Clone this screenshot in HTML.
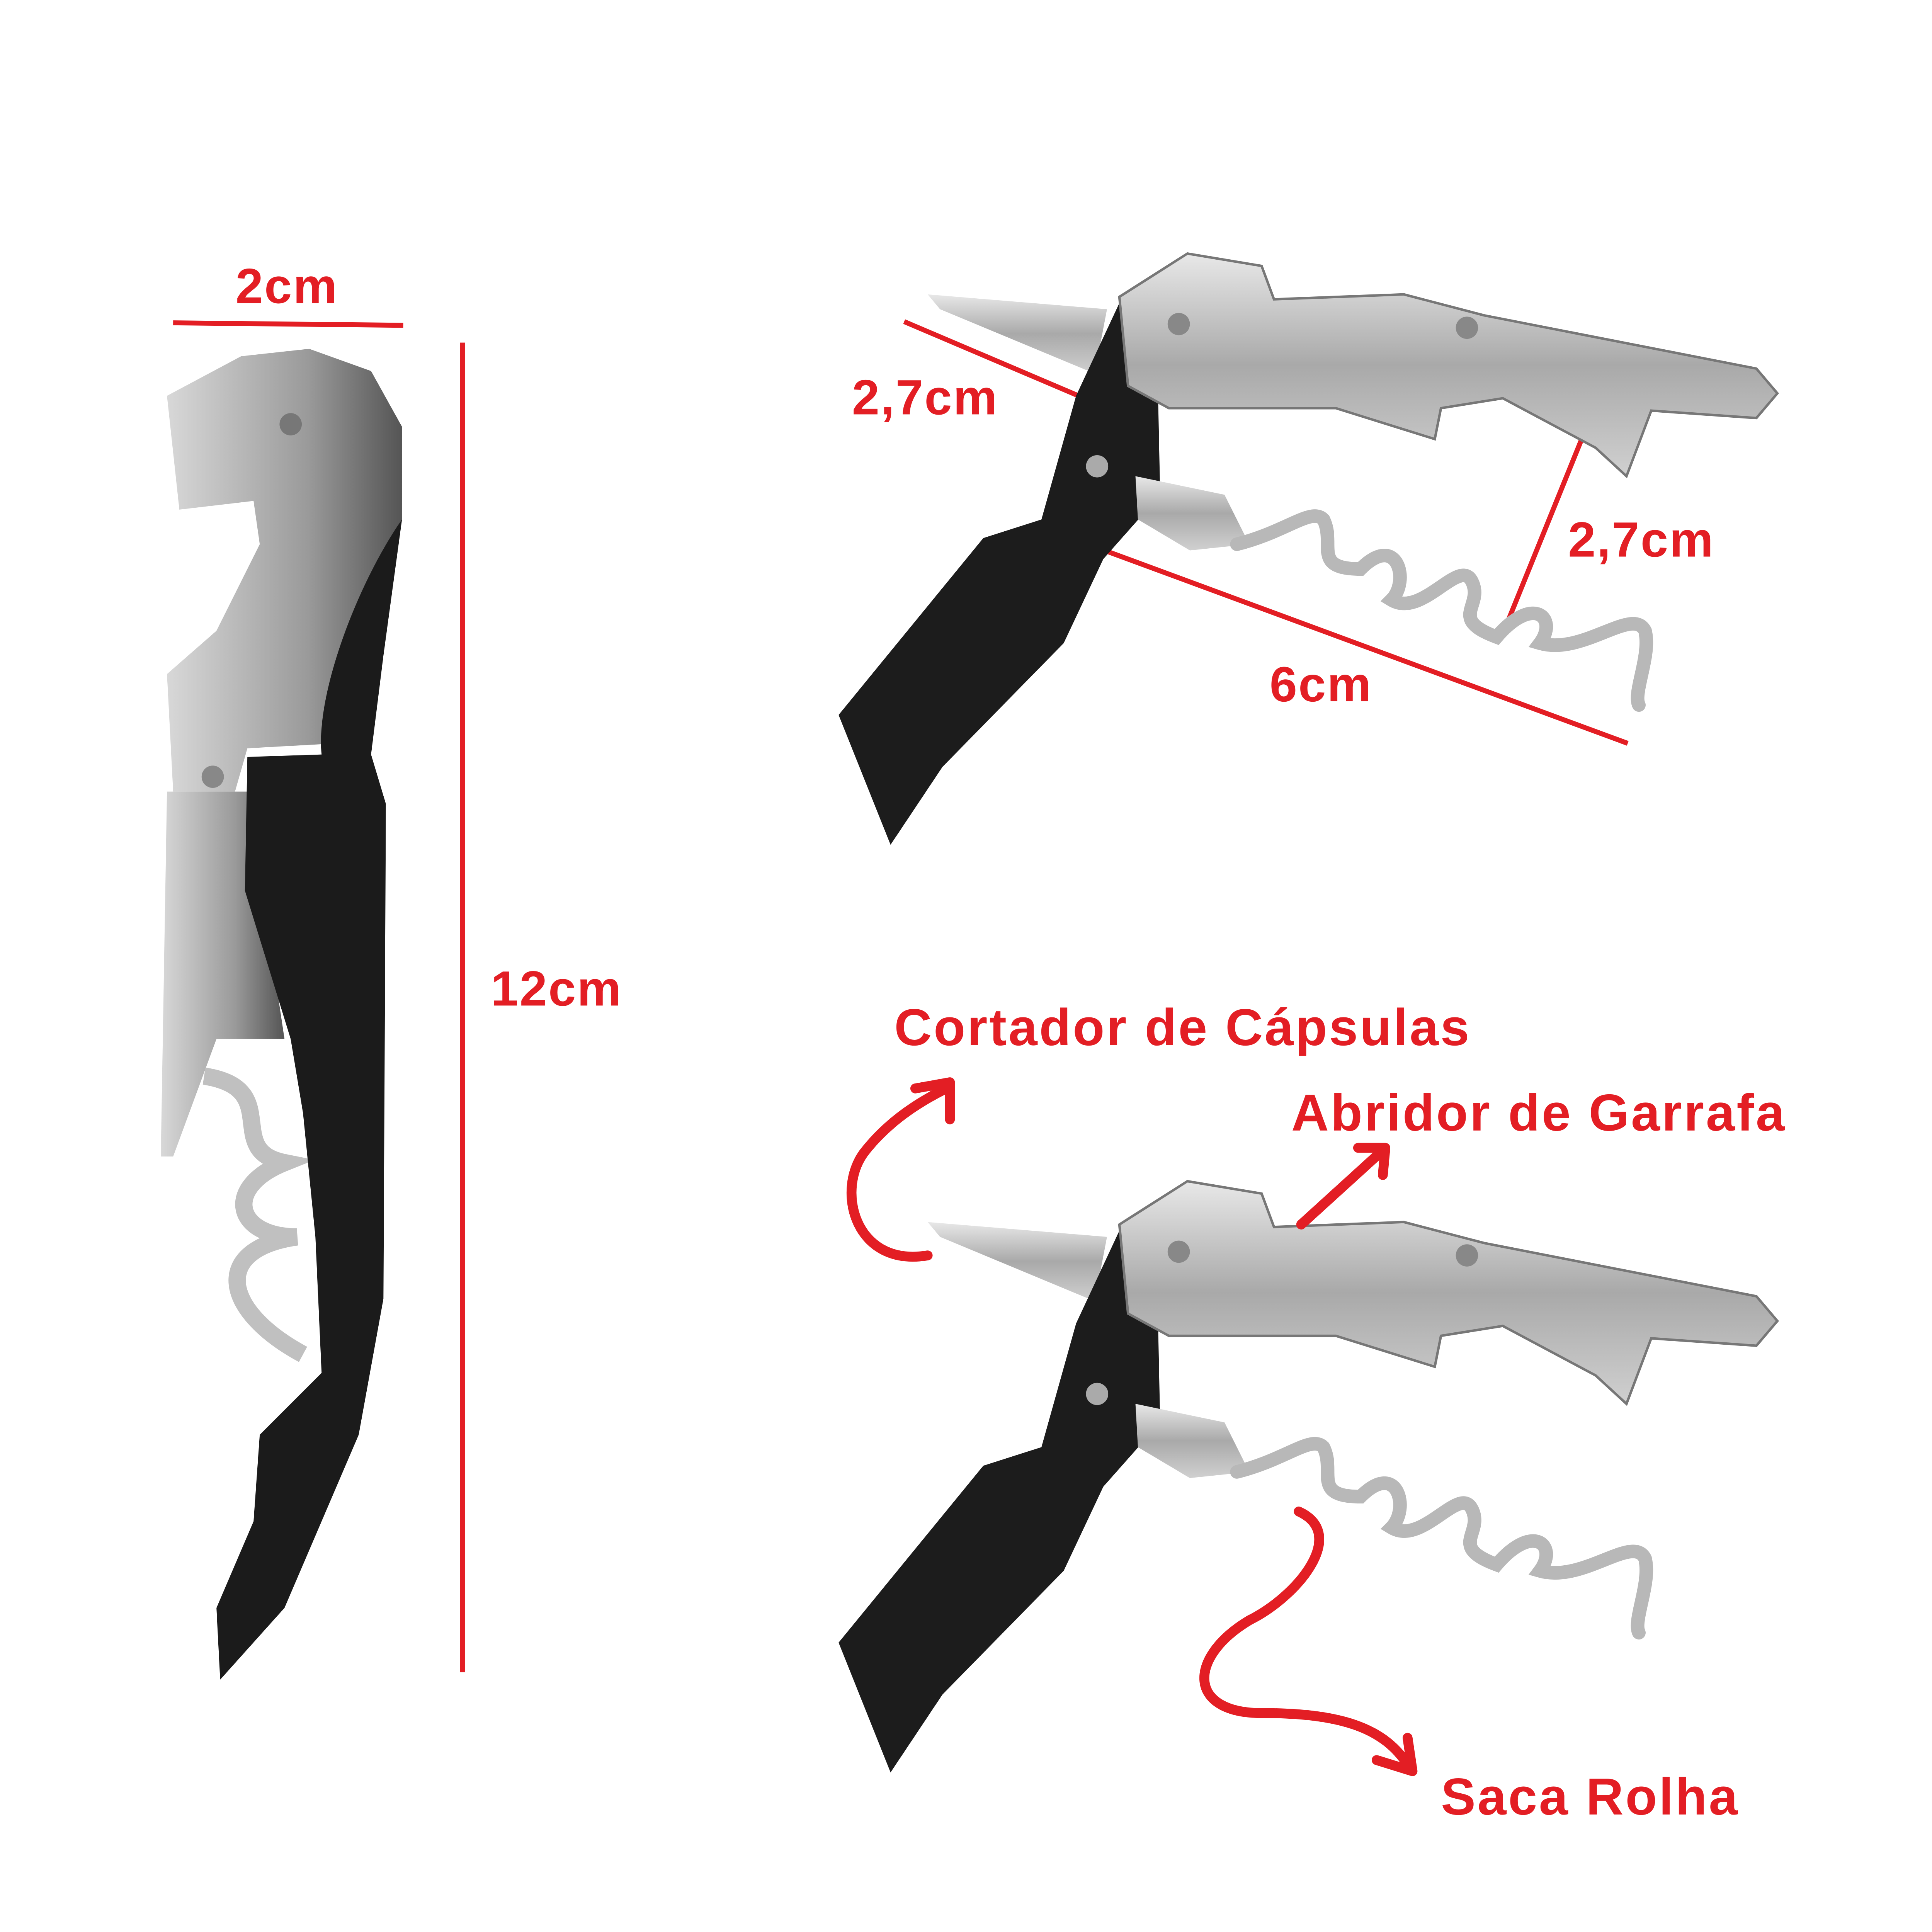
<!DOCTYPE html>
<html><head><meta charset="utf-8"><style>
html,body{margin:0;padding:0;background:#fff;width:100%;height:100%;overflow:hidden}
svg{display:block;width:100vw;height:100vh}
text{font-family:"Liberation Sans",sans-serif;font-weight:bold;fill:#e31e24}
.lb{font-size:42px;letter-spacing:1.5px}
.dm{font-size:40px;letter-spacing:1px}
</style></head><body>
<svg viewBox="0 0 1562 1562" preserveAspectRatio="none" xmlns="http://www.w3.org/2000/svg">
<defs>
<linearGradient id="s" x1="0" y1="0" x2="0" y2="1"><stop offset="0" stop-color="#e8e8e8"/><stop offset=".5" stop-color="#a9a9a9"/><stop offset="1" stop-color="#d0d0d0"/></linearGradient>
<linearGradient id="sl" x1="0" y1="0" x2="1" y2="0"><stop offset="0" stop-color="#d8d8d8"/><stop offset=".6" stop-color="#9a9a9a"/><stop offset="1" stop-color="#555"/></linearGradient>
<g id="open">
<polygon points="750,238 895,250 885,302 760,250" fill="url(#s)"/>
<polygon points="905,245 935,262 938,400 892,452 860,520 762,620 720,683 678,578 795,435 842,420 870,320" fill="#1c1c1c"/>
<path d="M905,240 L960,205 L1020,215 L1030,242 L1135,238 L1200,255 L1420,298 L1437,318 L1420,338 L1335,332 L1315,385 L1290,362 L1215,322 L1165,330 L1160,355 L1080,330 L1000,330 L945,330 L912,312 Z" fill="url(#s)" stroke="#777" stroke-width="2"/>
<circle cx="953" cy="262" r="9" fill="#888"/>
<circle cx="1186" cy="265" r="9" fill="#888"/>
<circle cx="887" cy="377" r="9" fill="#aaa"/>
<polygon points="918,385 990,400 1010,440 962,445 920,420" fill="url(#s)"/>
<path d="M1000,440 C1040,430 1060,410 1070,420 C1080,440 1060,460 1100,460 C1130,430 1140,470 1125,485 C1150,500 1180,450 1190,470 C1200,490 1170,500 1210,515 C1240,480 1260,500 1245,520 C1280,530 1320,490 1330,510 C1335,530 1320,560 1325,570" fill="none" stroke="#b8b8b8" stroke-width="11" stroke-linecap="round"/>
</g>
</defs>

<path d="M135,320 L195,288 L250,282 L300,300 L325,345 L325,420 L305,530 L290,600 L200,605 L190,640 L140,640 L135,545 L175,510 L210,440 L205,405 L145,412 Z" fill="url(#sl)"/>
<polygon points="135,640 200,640 230,840 175,840 140,935 130,935" fill="url(#sl)"/>
<path d="M165,870 C230,880 180,930 230,940 C180,960 190,1000 240,1000 C170,1010 180,1060 245,1095" fill="none" stroke="#c0c0c0" stroke-width="14"/>
<circle cx="235" cy="343" r="9" fill="#777"/>
<circle cx="172" cy="628" r="9" fill="#888"/>
<path d="M325,420 C290,470 255,560 260,610 L200,612 L198,720 L235,840 L245,900 L255,1000 L260,1110 L210,1160 L205,1230 L175,1300 L178,1358 L230,1300 L290,1160 L310,1050 L312,650 L300,610 L310,530 Z" fill="#1b1b1b"/>

<g stroke="#e31e24" stroke-width="4" fill="none">
<line x1="140" y1="261" x2="326" y2="263"/>
<line x1="374" y1="277" x2="374" y2="1352"/>
<line x1="731" y1="260" x2="872" y2="320"/>
<line x1="1280" y1="352" x2="1218" y2="505"/>
<line x1="893" y1="445" x2="1316" y2="601"/>
</g>

<use href="#open"/>
<use href="#open" transform="translate(0,750)"/>

<g stroke="#e31e24" stroke-width="8" fill="none" stroke-linecap="round" stroke-linejoin="round">
<path d="M750,1015 C690,1025 675,960 700,930 C720,905 745,890 765,880"/>
<path d="M740,880 L768,875 L768,905"/>
<path d="M1052,990 L1118,930"/>
<path d="M1098,928 L1120,928 L1118,950"/>
<path d="M1050,1222 C1090,1240 1050,1290 1010,1310 C960,1340 960,1385 1020,1385 C1080,1385 1120,1395 1140,1430"/>
<path d="M1113,1423 L1142,1432 L1138,1405"/>
</g>

<text class="dm" x="232" y="245" text-anchor="middle">2cm</text>
<text class="dm" x="450" y="813" text-anchor="middle">12cm</text>
<text class="dm" x="748" y="335" text-anchor="middle">2,7cm</text>
<text class="dm" x="1327" y="450" text-anchor="middle">2,7cm</text>
<text class="dm" x="1068" y="567" text-anchor="middle">6cm</text>
<text class="lb" x="723" y="845">Cortador de Cápsulas</text>
<text class="lb" x="1044" y="914">Abridor de Garrafa</text>
<text class="lb" x="1165" y="1467">Saca Rolha</text>
</svg>
</body></html>
